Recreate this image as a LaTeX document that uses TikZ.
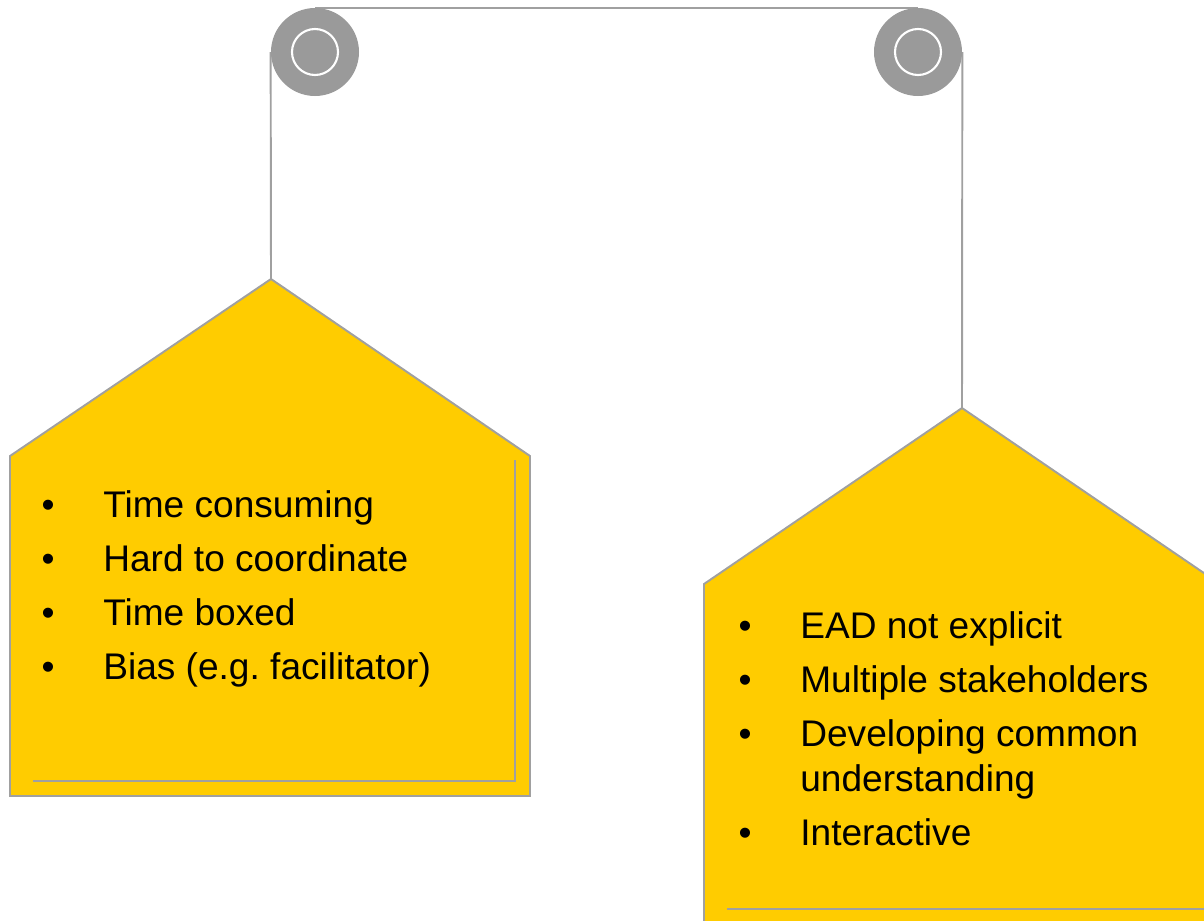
\documentclass[tikz,border=0pt]{standalone}
\usepackage{fontspec}
\setmainfont{Liberation Sans}
\usetikzlibrary{positioning, calc, backgrounds}
\definecolor{tagYellow}{HTML}{FFCC00}
\definecolor{pinGray}{HTML}{9A9A9A}
\definecolor{lineGray}{HTML}{A0A0A0}

\begin{document}
\begin{tikzpicture}[
    x=0.02cm, y=-0.02cm,
    pin/.style={circle, fill=pinGray, minimum size=88*0.02cm, inner sep=0pt},
    ring/.style={circle, draw=white, line width=1.2pt, minimum size=46*0.02cm, inner sep=0pt},
    string/.style={draw=lineGray, line width=1.1pt},
    tag/.style={fill=tagYellow, draw=lineGray, line width=1.1pt},
    fold/.style={draw=lineGray, line width=1.1pt},
    item/.style={anchor=base west, inner sep=0pt, font=\fontsize{21.1}{30.6}\selectfont},
    dot/.style={anchor=base, inner sep=0pt, font=\fontsize{21.1}{30.6}\selectfont},
]
    \clip (0,0) rectangle (1204,920);

    % Tags
    \coordinate (tipL) at (271,279);
    \coordinate (tipR) at (962,408);
    \draw[tag] (tipL) -- (530,456) -- (530,796) -- (10,796) -- (10,456) -- cycle;
    \draw[tag] (tipR) -- (1220,584) -- (1220,940) -- (704,940) -- (704,584) -- cycle;
    \draw[fold] (515,460) -- (515,781) -- (33,781);
    \draw[fold] (727,909) -- (1210,909);

    % Pins
    \node[pin] (pinL) at (315,52) {};
    \node[pin] (pinR) at (918,52) {};
    \node[ring] (ringL) at (pinL) {};
    \node[ring] (ringR) at (pinR) {};

    % Strings
    \begin{scope}[on background layer]
    \draw[string] (tipL) -- (pinL.west);
    \draw[string] (pinL.north) -- (pinR.north);
    \draw[string] (pinR.east) -- (tipR);
    \end{scope}

    % Left items
    \foreach \txt [count=\i] in {Time consuming, Hard to coordinate, Time boxed, Bias (e.g.\ facilitator)} {
        \node[dot] (dotL\i) at (48, 463+54*\i) {•};
        \node[item] (itemL\i) at (103, 463+54*\i) {\txt};
    }

    % Right items
    \node[dot] (dotR1) at (745,638) {•};
    \node[item] (itemR1) at (800,638) {EAD not explicit};
    \node[dot] (dotR2) at (745,692) {•};
    \node[item] (itemR2) at (800,692) {Multiple stakeholders};
    \node[dot] (dotR3) at (745,746) {•};
    \node[item] (itemR3) at (800,746) {Developing common};
    \node[item] (itemR3b) at (800,791) {understanding};
    \node[dot] (dotR4) at (745,845) {•};
    \node[item] (itemR4) at (800,845) {Interactive};
\end{tikzpicture}
\end{document}
